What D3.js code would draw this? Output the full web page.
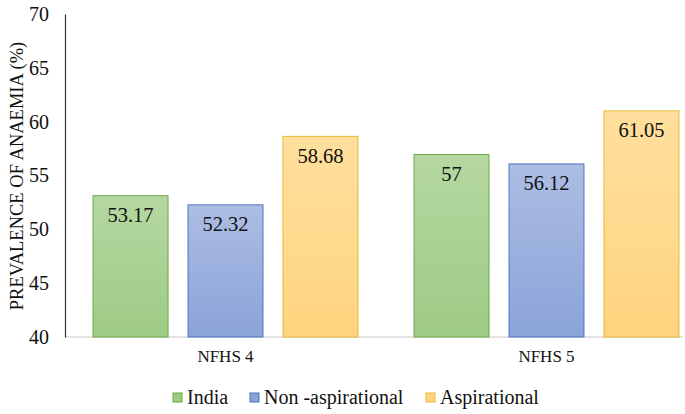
<!DOCTYPE html>
<html>
<head>
<meta charset="utf-8">
<script src="https://cdn.jsdelivr.net/npm/d3@7"></script>
<style>
  body { margin: 0; background: #fff; }
</style>
</head>
<body>
<div class="canvas"></div>
<script>
// data
const rounds = ['NFHS 4', 'NFHS 5']
const seriesNames = ['India', 'Non -aspirational', 'Aspirational']
const india = [53.17, 57]
const nonAspirational = [52.32, 56.12]
const aspirational = [58.68, 61.05]
const yTicks = [40, 45, 50, 55, 60, 65, 70]

const seriesValues = [india, nonAspirational, aspirational]
const colors = [
  {top: '#b5d8a1', bottom: '#9ecb85', stroke: '#6fa64a'},
  {top: '#adbde3', bottom: '#8aa3d9', stroke: '#4f75c0'},
  {top: '#ffdf9e', bottom: '#ffd47f', stroke: '#e8b935'}
]
const FONT = 'Liberation Serif'

const width = 685, height = 414
const margin = {top: 14, right: -22, bottom: 77, left: 65}
const graphWidth = width - margin.left - margin.right
const graphHeight = height - margin.top - margin.bottom

const svg = d3.select('.canvas')
  .append('svg')
  .attr('width', width)
  .attr('height', height)
  .attr('font-family', FONT)

const defs = svg.append('defs')
colors.forEach((c, i) => {
  const g = defs.append('linearGradient')
    .attr('id', 'grad' + i)
    .attr('x1', 0).attr('y1', 0).attr('x2', 0).attr('y2', 1)
  g.append('stop').attr('offset', '0%').attr('stop-color', c.top)
  g.append('stop').attr('offset', '100%').attr('stop-color', c.bottom)
})

const graph = svg.append('g')
  .attr('transform', `translate(${margin.left}, ${margin.top})`)

const x0 = d3.scaleBand()
  .domain(rounds)
  .range([0, graphWidth])

const x1 = d3.scaleBand()
  .domain(seriesNames)
  .range([0, x0.bandwidth()])
  .paddingInner(0.2)
  .paddingOuter(0.29)

const y = d3.scaleLinear()
  .domain([40, 70])
  .range([graphHeight, 0])

// baseline
graph.append('line')
  .attr('x1', 0).attr('x2', width - margin.left - 2)
  .attr('y1', graphHeight).attr('y2', graphHeight)
  .attr('stroke', '#c8c8c8')
  .attr('stroke-width', 1)

// bars
const groups = graph.selectAll('g.round')
  .data(rounds)
  .enter()
  .append('g')
  .attr('class', 'round')
  .attr('transform', d => `translate(${x0(d)}, 0)`)

groups.each(function (r, ri) {
  const g = d3.select(this)
  const items = seriesNames.map((s, si) => ({s, si, v: seriesValues[si][ri]}))
  g.selectAll('rect')
    .data(items)
    .enter()
    .append('rect')
    .attr('x', d => x1(d.s) + 0.5)
    .attr('y', d => y(d.v) + 0.5)
    .attr('width', x1.bandwidth() - 1)
    .attr('height', d => graphHeight - y(d.v) - 0.5)
    .attr('fill', d => `url(#grad${d.si})`)
    .attr('stroke', d => colors[d.si].stroke)
    .attr('stroke-width', 1)

  g.selectAll('text.val')
    .data(items)
    .enter()
    .append('text')
    .attr('class', 'val')
    .attr('x', d => x1(d.s) + x1.bandwidth() / 2)
    .attr('y', d => y(d.v) + 27)
    .attr('text-anchor', 'middle')
    .attr('font-family', FONT)
    .attr('font-size', 20.5)
    .attr('fill', '#111')
    .text(d => d.v)
})

// y axis
const yAxis = d3.axisLeft(y)
  .tickValues(yTicks)
  .tickSize(0)
  .tickPadding(16)

const yAxisGroup = graph.append('g').call(yAxis)
yAxisGroup.attr('font-family', FONT)
yAxisGroup.select('.domain').attr('stroke', '#333').attr('stroke-width', 1.2)
yAxisGroup.selectAll('text')
  .attr('font-size', 20)
  .attr('fill', '#111')
  .attr('font-family', FONT)

// x axis labels
const xAxis = d3.axisBottom(x0).tickSize(0).tickPadding(13)
const xAxisGroup = graph.append('g')
  .attr('transform', `translate(0, ${graphHeight})`)
  .call(xAxis)
xAxisGroup.attr('font-family', FONT)
xAxisGroup.select('.domain').remove()
xAxisGroup.selectAll('text')
  .attr('font-size', 17)
  .attr('fill', '#111')
  .attr('font-family', FONT)

// y title
svg.append('text')
  .attr('transform', 'translate(23, 176) rotate(-90)')
  .attr('text-anchor', 'middle')
  .attr('font-family', FONT)
  .attr('font-size', 18.5)
  .attr('fill', '#111')
  .text('PREVALENCE OF ANAEMIA (%)')

// legend
const legendX = [173, 250, 426]
const legend = svg.append('g')
  .selectAll('g')
  .data(seriesNames)
  .enter()
  .append('g')
  .attr('transform', (d, i) => `translate(${legendX[i]}, 398)`)

legend.append('rect')
  .attr('x', 0).attr('y', -5)
  .attr('width', 9).attr('height', 9)
  .attr('fill', (d, i) => colors[i].bottom)
  .attr('stroke', (d, i) => colors[i].stroke)

legend.append('text')
  .attr('x', 14)
  .attr('y', 6)
  .attr('font-family', FONT)
  .attr('font-size', 20)
  .attr('fill', '#111')
  .text(d => d)
</script>
</body>
</html>
